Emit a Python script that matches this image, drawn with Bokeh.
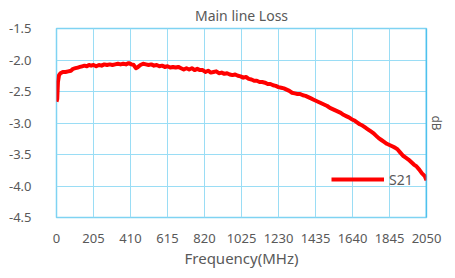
from bokeh.plotting import figure
from bokeh.models import (Range1d, FixedTicker, Span, Title, Legend, LegendItem,
                          ColumnDataSource, CustomJSTickFormatter)
from bokeh.embed import file_html
from bokeh.resources import INLINE

title_text = "Main line Loss"
x_label = "Frequency(MHz)"
y2_label = "dB"
series_name = "S21"

x_ticks = [0, 205, 410, 615, 820, 1025, 1230, 1435, 1640, 1845, 2050]
y_ticks = [-4.5, -4.0, -3.5, -3.0, -2.5, -2.0, -1.5]

freq = [0, 4, 8, 14, 22, 35, 50, 65, 80, 92, 105, 118, 130, 142, 155, 168, 180,
        192, 205, 220, 235, 250, 265, 280, 295, 310, 325, 340, 355, 370, 385,
        400, 415, 428, 440, 452, 465, 480, 495, 510, 525, 540, 555, 570, 585,
        600, 615, 630, 645, 660, 675, 690, 705, 720, 735, 750, 765, 780, 795,
        810, 825, 840, 855, 870, 885, 900, 915, 930, 945, 960, 975, 990, 1005,
        1020, 1035, 1050, 1065, 1080, 1095, 1110, 1125, 1140, 1155, 1170, 1185,
        1200, 1215, 1230, 1245, 1260, 1275, 1290, 1305, 1320, 1335, 1350, 1365,
        1380, 1395, 1410, 1425, 1440, 1455, 1470, 1485, 1500, 1515, 1530, 1545,
        1560, 1575, 1590, 1605, 1620, 1635, 1650, 1665, 1680, 1695, 1710, 1725,
        1740, 1755, 1770, 1785, 1800, 1815, 1830, 1845, 1860, 1875, 1890, 1905,
        1920, 1935, 1950, 1965, 1980, 1995, 2010, 2025, 2040, 2050]
s21 = [-2.66, -2.62, -2.35, -2.24, -2.21, -2.19, -2.19, -2.18, -2.17, -2.14,
       -2.13, -2.12, -2.11, -2.10, -2.09, -2.10, -2.08, -2.09, -2.08, -2.10,
       -2.08, -2.09, -2.07, -2.08, -2.07, -2.08, -2.07, -2.06, -2.07, -2.06,
       -2.07, -2.05, -2.07, -2.08, -2.13, -2.11, -2.08, -2.06, -2.07, -2.08,
       -2.07, -2.09, -2.08, -2.10, -2.09, -2.11, -2.10, -2.12, -2.11, -2.12,
       -2.11, -2.13, -2.15, -2.13, -2.15, -2.13, -2.16, -2.14, -2.16, -2.16,
       -2.19, -2.17, -2.20, -2.19, -2.18, -2.21, -2.20, -2.22, -2.21, -2.23,
       -2.24, -2.23, -2.25, -2.26, -2.28, -2.27, -2.30, -2.31, -2.33, -2.33,
       -2.35, -2.35, -2.36, -2.38, -2.38, -2.40, -2.41, -2.43, -2.44, -2.45,
       -2.47, -2.49, -2.52, -2.53, -2.54, -2.54, -2.56, -2.57, -2.59, -2.61,
       -2.63, -2.65, -2.67, -2.69, -2.71, -2.73, -2.76, -2.78, -2.80, -2.82,
       -2.84, -2.87, -2.89, -2.91, -2.94, -2.96, -2.99, -3.02, -3.04, -3.07,
       -3.10, -3.13, -3.16, -3.20, -3.24, -3.27, -3.30, -3.33, -3.35, -3.37,
       -3.39, -3.42, -3.47, -3.52, -3.55, -3.58, -3.62, -3.66, -3.69, -3.74,
       -3.80, -3.84, -3.91]

FONT = "Noto Sans"
GREY = "#595959"
GRID = "#9ADDF5"

p = figure(width=447, height=270, output_backend="svg", toolbar_location=None,
           x_range=Range1d(0, 2050), y_range=Range1d(-4.5, -1.5),
           min_border_left=56, min_border_right=15, min_border_top=28,
           min_border_bottom=53)
p.background_fill_color = "white"
p.border_fill_color = "white"
p.outline_line_color = "#7FD3F2"
p.outline_line_width = 1.5

p.title.text = title_text
p.title.align = "center"
p.title.text_font = FONT
p.title.text_font_size = "14px"
p.title.text_font_style = "normal"
p.title.text_color = GREY
p.title.standoff = 7

p.xaxis.ticker = FixedTicker(ticks=x_ticks)
p.yaxis.ticker = FixedTicker(ticks=y_ticks)
p.yaxis.formatter = CustomJSTickFormatter(code="return tick.toFixed(1);")

for ax in (p.xaxis[0], p.yaxis[0]):
    ax.axis_line_color = None
    ax.major_tick_line_color = None
    ax.minor_tick_line_color = None
    ax.major_label_text_font = FONT
    ax.major_label_text_font_size = "13px"
    ax.major_label_text_color = GREY
p.xaxis.major_label_standoff = 10
p.yaxis.major_label_standoff = 19

p.xaxis.axis_label = x_label
p.xaxis.axis_label_text_font = FONT
p.xaxis.axis_label_text_font_size = "15px"
p.xaxis.axis_label_text_font_style = "normal"
p.xaxis.axis_label_text_color = GREY
p.xaxis.axis_label_standoff = 2

p.xgrid.grid_line_color = GRID
p.ygrid.grid_line_color = GRID
p.xgrid.grid_line_width = 1
p.ygrid.grid_line_width = 1

p.add_layout(Span(location=2050, dimension="height", line_color="#1CB0E8",
                  line_width=1.5))

src = ColumnDataSource(dict(x=freq, y=s21))
r = p.line("x", "y", source=src, line_color="#FF0000", line_width=4,
           line_join="round")

legend = Legend(items=[LegendItem(label=series_name, renderers=[r])],
                location=(275, 28), padding=0, margin=0, spacing=0,
                glyph_width=53, glyph_height=20, label_standoff=5,
                label_text_font=FONT, label_text_font_size="14px",
                label_text_color=GREY, border_line_color=None,
                background_fill_alpha=0)
p.add_layout(legend)

# secondary axis title on the right edge
p.add_layout(Title(text=y2_label, align="center", text_font=FONT,
                   text_font_size="12px", text_font_style="normal",
                   text_color=GREY, text_line_height=1.0, standoff=2), "right")

open("out.html", "w").write(file_html(p, INLINE))
